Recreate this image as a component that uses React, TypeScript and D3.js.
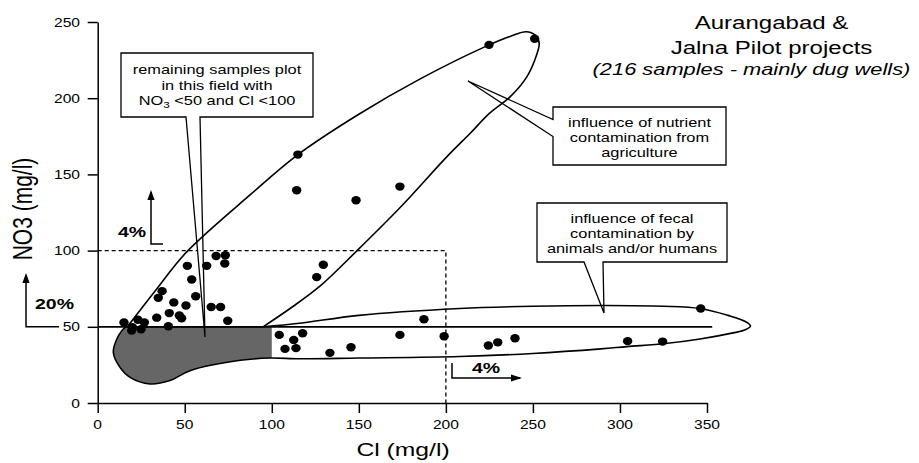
import * as d3 from "d3";
import { useEffect, useRef } from "react";

const xTicks = [0, 50, 100, 150, 200, 250, 300, 350];
const yTicks = [0, 50, 100, 150, 200, 250];

// samples (Cl, NO3 in mg/l)
const sampleCl = [
  51.5, 62.6, 68, 73.3, 73, 54, 56.3, 37, 34.8, 43.7, 50.7, 65.2, 70.6, 74.7, 33.9, 41.1, 46.9,
  48.2, 40.6, 15.1, 19.9, 19.5, 23.1, 26.8, 24.9, 115, 114.3, 148.4, 173.6, 224.8, 251, 125.8,
  129.6, 187.4, 346.4, 104.3, 117.7, 112.6, 107.6, 113.9, 133.4, 145.5, 173.6, 199, 224.4, 229.8,
  239.7, 304.4, 324.5,
];
const sampleNo3 = [
  90, 90, 96.5, 97, 91.5, 81, 70, 73.4, 69, 66, 64, 63, 63, 54, 56, 59, 57.4, 55.6, 50.4, 52.8,
  49.7, 47.5, 54.6, 52.8, 48.4, 163, 139.6, 133, 142, 235, 239, 82.6, 90.7, 55, 62, 44.7, 45.8,
  41.4, 35.5, 36, 32.9, 36.6, 44.7, 43.8, 37.7, 39.8, 42.5, 40.6, 40.3,
];

// outline of the agricultural field (open at NO3 = 50)
const agricultureEnvelope: [number, number][] = [
  [17, 50], [34, 75], [51, 99], [88, 137], [115, 163], [150, 189.5], [185, 212.5], [222, 233.5],
  [238, 241], [246, 243.6], [251.5, 241.2], [253.6, 236], [252, 228], [246.5, 214], [237, 201],
  [225, 190], [214, 177], [200.5, 161.5], [174, 128.6], [149, 100], [128, 77], [110.5, 62],
  [95, 50],
];

// outline of the fecal field, closed along NO3 = 50
const fecalEnvelope: [number, number][] = [
  [95, 50], [116, 52.3], [150, 57.5], [208, 62], [250, 63.5], [292, 64], [325, 63.5], [346, 62],
  [362, 57.5], [372, 53.5], [375, 50.5], [372, 48], [365, 46], [346, 42], [326, 39], [304, 37],
  [289, 35.5], [250, 32.5], [208, 30.5], [150, 29.5], [116, 29], [99, 29.5], [82, 28],
  [53, 21.2], [41.5, 14.7], [30, 12.5], [18.6, 16.8], [12.8, 23.4], [9, 33], [11, 42],
  [15.7, 49.5], [17.5, 50],
];

const titleLines = ["Aurangabad &", "Jalna Pilot projects"];
const subtitle = "(216 samples - mainly dug wells)";
const remainingNote = ["remaining samples plot", "in this field with"];
const nutrientNote = ["influence of nutrient", "contamination from", "agriculture"];
const fecalNote = ["influence of fecal", "contamination by", "animals and/or humans"];

const W = 919;
const H = 463;
const SX = 1.3; // the reference text is stretched sideways
const FONT = "'Liberation Sans', Arial, Helvetica, sans-serif";

const App = () => {
  const chartRef = useRef<SVGSVGElement | null>(null);

  useEffect(() => {
    if (!chartRef.current) return;
    const svg = d3.select(chartRef.current);
    svg.selectAll("*").remove();

    const x = d3.scaleLinear().domain([0, 350]).range([97.7, 707]);
    const y = d3.scaleLinear().domain([0, 250]).range([403, 22]);

    const addText = (
      px: number,
      py: number,
      str: string,
      size: number,
      opts: { anchor?: string; weight?: string; style?: string } = {}
    ) =>
      svg
        .append("text")
        .attr("transform", `translate(${px},${py}) scale(${SX},1)`)
        .attr("text-anchor", opts.anchor ?? "middle")
        .attr("font-family", FONT)
        .attr("font-size", size)
        .attr("font-weight", opts.weight ?? "normal")
        .attr("font-style", opts.style ?? "normal")
        .attr("fill", "#000")
        .text(str);

    const envelopeLine = d3
      .line<[number, number]>()
      .x((d) => x(d[0]))
      .y((d) => y(d[1]))
      .curve(d3.curveCatmullRom.alpha(0.5));

    // grey field left of Cl = 100
    svg
      .append("clipPath")
      .attr("id", "leftField")
      .append("rect")
      .attr("x", 0)
      .attr("y", 0)
      .attr("width", x(100))
      .attr("height", H);

    svg
      .append("path")
      .attr("d", envelopeLine(fecalEnvelope) + "Z")
      .attr("fill", "#666")
      .attr("clip-path", "url(#leftField)");

    // dashed limits NO3 = 100 / Cl = 200
    svg
      .append("path")
      .attr("d", `M${x(0)},${y(100)}H${x(200)}V${y(0)}`)
      .attr("fill", "none")
      .attr("stroke", "#000")
      .attr("stroke-width", 1.3)
      .attr("stroke-dasharray", "4,3");

    // callout boxes
    const callouts = [
      "M121,53H313V117H200L205,337L186,117H121Z",
      "M553,107H726V165H553V136.5L468,81L553,119.5Z",
      "M537,203H727V262H603L604,313L584,262H537Z",
    ];
    callouts.forEach((d) =>
      svg
        .append("path")
        .attr("d", d)
        .attr("fill", "#fff")
        .attr("stroke", "#000")
        .attr("stroke-width", 1.3)
    );

    remainingNote.forEach((t, i) => addText(217, 74 + i * 15.5, t, 12.6));
    const no3Line = svg
      .append("text")
      .attr("transform", `translate(217,105) scale(${SX},1)`)
      .attr("text-anchor", "middle")
      .attr("font-family", FONT)
      .attr("font-size", 12.6);
    no3Line.append("tspan").text("NO");
    no3Line.append("tspan").attr("font-size", 9).attr("dy", 3).text("3");
    no3Line.append("tspan").attr("dy", -3).text(" <50 and Cl <100");

    nutrientNote.forEach((t, i) => addText(639.5, 127 + i * 15, t, 12.6));
    fecalNote.forEach((t, i) => addText(632, 223 + i * 15, t, 12.6));

    // envelopes
    svg
      .append("path")
      .attr("d", envelopeLine(agricultureEnvelope))
      .attr("fill", "none")
      .attr("stroke", "#000")
      .attr("stroke-width", 1.6);

    svg
      .append("path")
      .attr("d", envelopeLine(fecalEnvelope) + "Z")
      .attr("fill", "none")
      .attr("stroke", "#000")
      .attr("stroke-width", 1.6);

    // NO3 = 50 line
    svg
      .append("line")
      .attr("x1", x(0))
      .attr("x2", x(353))
      .attr("y1", y(50))
      .attr("y2", y(50))
      .attr("stroke", "#000")
      .attr("stroke-width", 1.7);

    // samples
    svg
      .append("g")
      .selectAll("ellipse")
      .data(sampleCl.map((c, i) => [c, sampleNo3[i]]))
      .join("ellipse")
      .attr("cx", (d) => x(d[0]))
      .attr("cy", (d) => y(d[1]))
      .attr("rx", 4.7)
      .attr("ry", 4.2)
      .attr("fill", "#000");

    // axes
    const yAxis = d3.axisLeft(y).tickValues(yTicks).tickSize(10).tickSizeOuter(0).tickFormat(() => "");
    const xAxis = d3.axisBottom(x).tickValues(xTicks).tickSize(10).tickSizeOuter(0).tickFormat(() => "");
    svg
      .append("g")
      .attr("transform", `translate(${x(0)},0)`)
      .call(yAxis)
      .call((g) => g.selectAll("line,path").attr("stroke-width", 1.5));
    svg
      .append("g")
      .attr("transform", `translate(0,${y(0)})`)
      .call(xAxis)
      .call((g) => g.selectAll("line,path").attr("stroke-width", 1.5));

    yTicks.forEach((t) => addText(80, y(t) + 4.5, String(t), 12, { anchor: "end" }));
    xTicks.forEach((t) => addText(x(t), 429, String(t), 12));

    addText(403, 456, "Cl (mg/l)", 19);
    svg
      .append("text")
      .attr("transform", `translate(32,209) rotate(-90) scale(1,${SX})`)
      .attr("text-anchor", "middle")
      .attr("font-family", FONT)
      .attr("font-size", 21)
      .text("NO3 (mg/l)");

    // title
    titleLines.forEach((t, i) => addText(771.5, 29 + i * 25, t, 18.5));
    addText(751.5, 75, subtitle, 16.8, { style: "italic" });

    // percentage arrows
    const arrowHead = (tx: number, ty: number, dir: string) =>
      dir === "up"
        ? `M${tx},${ty}L${tx - 3.6},${ty + 10}L${tx + 3.6},${ty + 10}Z`
        : `M${tx},${ty}L${tx - 11},${ty - 3.6}L${tx - 11},${ty + 3.6}Z`;

    const stroke = (d: string) =>
      svg.append("path").attr("d", d).attr("fill", "none").attr("stroke", "#000").attr("stroke-width", 1.5);
    const head = (d: string) => svg.append("path").attr("d", d).attr("fill", "#000");

    // 20 % above NO3 = 50
    stroke(`M59,${y(50)}H26V${275}`);
    head(arrowHead(26, 273, "up"));
    addText(35, 309, "20%", 15, { anchor: "start", weight: "bold" });

    // 4 % above NO3 = 100
    stroke(`M163,244H151V${192}`);
    head(arrowHead(151, 190, "up"));
    addText(118, 237, "4%", 15, { anchor: "start", weight: "bold" });

    // 4 % right of Cl = 200
    stroke(`M452,363V378H${520}`);
    head(arrowHead(522, 378, "right"));
    addText(472, 373, "4%", 15, { anchor: "start", weight: "bold" });
  }, []);

  return (
    <svg
      ref={chartRef}
      width={W}
      height={H}
      style={{ position: "absolute", left: 0, top: 0, background: "#fff", display: "block" }}
    ></svg>
  );
};

export default App;
